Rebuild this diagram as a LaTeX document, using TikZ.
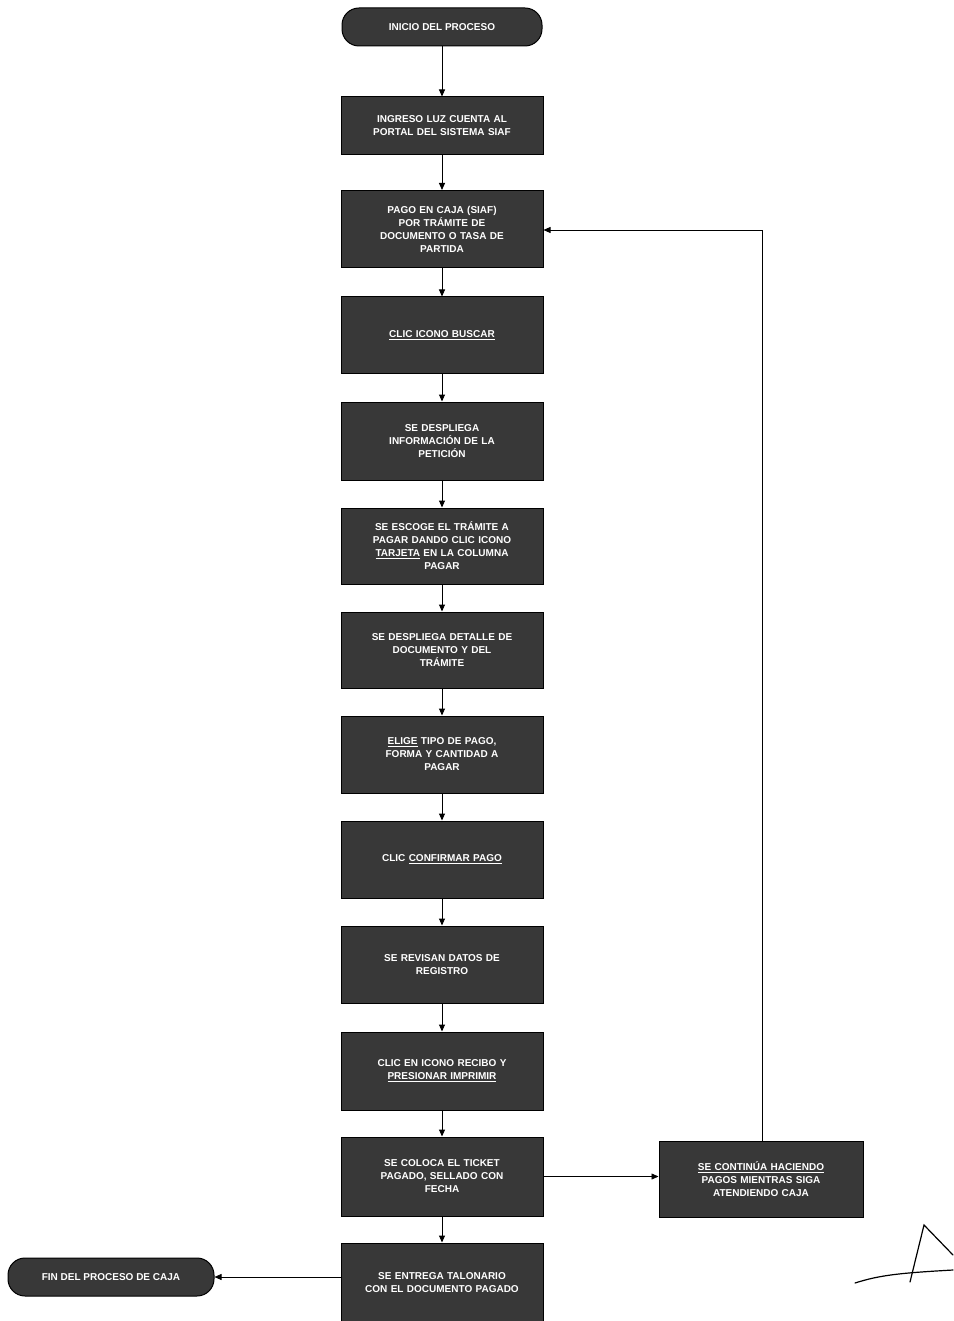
\documentclass[tikz,border=0pt]{standalone}
\usepackage{fontspec}
\setmainfont{Liberation Sans}
\usetikzlibrary{arrows.meta}
\begin{document}
\begin{tikzpicture}[x=1pt,y=-1pt,
  stepbox/.style={draw=black,line width=1pt,fill=black!78,text=white,font=\bfseries\fontsize{10}{13}\selectfont,
    minimum width=202pt,minimum height=77pt,text width=192pt,align=center,inner sep=2pt},
  termbox/.style={draw=black,line width=1pt,fill=black!78,text=white,font=\bfseries\fontsize{10}{13}\selectfont,
    rounded corners=17pt,minimum height=38pt,align=center,inner sep=2pt},
  conn/.style={line width=1pt,-{Triangle[length=7pt,width=6pt]}},
  thinconn/.style={line width=0.6pt,-{Triangle[length=7pt,width=6pt]}}]
\useasboundingbox (0,0) rectangle (953,1321);
\node[termbox,minimum width=200pt] (start) at (442,27) {INICIO DEL PROCESO};
\node[stepbox,minimum height=58pt] (b1) at (442,126) {INGRESO LUZ CUENTA AL\\PORTAL DEL SISTEMA SIAF};
\node[stepbox] (b2) at (442,229) {PAGO EN CAJA (SIAF)\\POR TRÁMITE DE\\DOCUMENTO O TASA DE\\PARTIDA};
\node[stepbox,minimum height=76pt] (b3) at (442,335) {\underline{CLIC ICONO BUSCAR}};
\node[stepbox,minimum height=78pt] (b4) at (442,441) {SE DESPLIEGA\\INFORMACIÓN DE LA\\PETICIÓN};
\node[stepbox,minimum height=76pt] (b5) at (442,546) {SE ESCOGE EL TRÁMITE A\\PAGAR DANDO CLIC ICONO\\\underline{TARJETA} EN LA COLUMNA\\PAGAR};
\node[stepbox,minimum height=76pt] (b6) at (442,650) {SE DESPLIEGA DETALLE DE\\DOCUMENTO Y DEL\\TRÁMITE};
\node[stepbox,minimum height=77pt] (b7) at (442,754.5) {\underline{ELIGE} TIPO DE PAGO,\\FORMA Y CANTIDAD A\\PAGAR};
\node[stepbox,minimum height=77pt] (b8) at (442,859.5) {CLIC \underline{CONFIRMAR PAGO}};
\node[stepbox,minimum height=77pt] (b9) at (442,964.5) {SE REVISAN DATOS DE\\REGISTRO};
\node[stepbox,minimum height=78pt] (b10) at (442,1071) {CLIC EN ICONO RECIBO Y\\\underline{PRESIONAR IMPRIMIR}};
\node[stepbox,minimum height=79pt] (b11) at (442,1176.5) {SE COLOCA EL TICKET\\PAGADO, SELLADO CON\\FECHA};
\node[stepbox,minimum height=80pt] (b12) at (442,1283) {SE ENTREGA TALONARIO\\CON EL DOCUMENTO PAGADO};
\node[termbox,minimum width=206pt] (fin) at (111,1277) {FIN DEL PROCESO DE CAJA};
\node[stepbox,minimum width=204pt,text width=196pt,minimum height=76pt] (side) at (761,1179) {\underline{SE CONTINÚA HACIENDO}\\PAGOS MIENTRAS SIGA\\ATENDIENDO CAJA};
\foreach \a/\b in {start/b1,b1/b2,b2/b3,b3/b4,b4/b5,b5/b6,b6/b7,b7/b8,b8/b9,b9/b10,b10/b11,b11/b12}
  \draw[conn] (\a) -- (\b);
\draw[thinconn] (b11.east) -- (side.west |- b11.east);
\draw[thinconn] (b12.west |- fin.east) -- (fin.east);
\coordinate (lp) at (762,230);
\draw[thinconn] (side.north -| lp) -- (lp) -- (b2.east |- lp);
% signature scribble
\draw[line width=1.2pt,line cap=round] (855,1283) .. controls (880,1275) and (900,1273) .. (953,1270);
\draw[line width=1.2pt,line cap=round] (910,1282) -- (924,1225) -- (953,1255);
\end{tikzpicture}
\end{document}
